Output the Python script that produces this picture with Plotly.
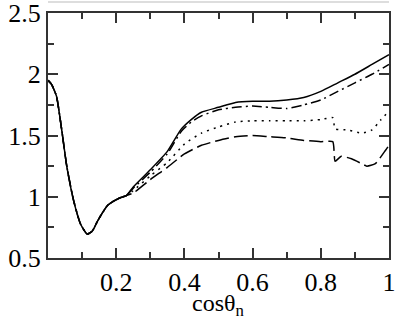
import plotly.graph_objects as go

# shared part of all four curves
x_common = [0, 0.01, 0.025, 0.04, 0.055, 0.075, 0.095, 0.115, 0.13, 0.145, 0.16, 0.175, 0.19, 0.21, 0.23]
y_common = [1.95, 1.92, 1.82, 1.55, 1.25, 0.97, 0.78, 0.695, 0.72, 0.8, 0.87, 0.93, 0.96, 0.99, 1.01]

x_solid = [0.25, 0.3, 0.35, 0.39, 0.42, 0.45, 0.5, 0.55, 0.6, 0.65, 0.7, 0.75, 0.8, 0.85, 0.9, 0.95, 1.0]
y_solid = [1.08, 1.22, 1.37, 1.55, 1.63, 1.69, 1.73, 1.77, 1.78, 1.78, 1.79, 1.81, 1.86, 1.93, 2.0, 2.08, 2.16]

x_dashdot = [0.25, 0.3, 0.35, 0.39, 0.42, 0.45, 0.5, 0.55, 0.6, 0.65, 0.7, 0.75, 0.8, 0.85, 0.9, 0.95, 1.0]
y_dashdot = [1.07, 1.2, 1.35, 1.53, 1.61, 1.66, 1.71, 1.73, 1.74, 1.73, 1.72, 1.75, 1.79, 1.86, 1.93, 2.0, 2.08]

x_dotted = [0.25, 0.3, 0.35, 0.4, 0.45, 0.5, 0.55, 0.6, 0.65, 0.7, 0.75, 0.8, 0.835, 0.842, 0.88, 0.92, 0.95, 0.975, 1.0]
y_dotted = [1.05, 1.17, 1.28, 1.43, 1.52, 1.57, 1.61, 1.62, 1.62, 1.62, 1.62, 1.63, 1.645, 1.555, 1.545, 1.52, 1.545, 1.625, 1.7]

x_dashed = [0.25, 0.3, 0.35, 0.4, 0.45, 0.5, 0.55, 0.6, 0.65, 0.7, 0.75, 0.8, 0.835, 0.842, 0.86, 0.89, 0.92, 0.935, 0.96, 0.99, 1.0]
y_dashed = [1.03, 1.14, 1.24, 1.35, 1.42, 1.46, 1.49, 1.5, 1.49, 1.48, 1.46, 1.45, 1.45, 1.29, 1.33, 1.31, 1.27, 1.25, 1.27, 1.38, 1.42]

x_ticks = [0.2, 0.4, 0.6, 0.8, 1]
x_labels = ["0.2", "0.4", "0.6", "0.8", "1"]
y_ticks = [0.5, 1, 1.5, 2, 2.5]
y_labels = ["0.5", "1", "1.5", "2", "2.5"]

fig = go.Figure()
for xs, ys, dash in [
    (x_solid, y_solid, "solid"),
    (x_dashdot, y_dashdot, "10px,4px,2px,4px"),
    (x_dotted, y_dotted, "2px,5px"),
    (x_dashed, y_dashed, "14px,5px"),
]:
    fig.add_trace(go.Scatter(
        x=x_common + xs, y=y_common + ys, mode="lines",
        line=dict(color="black", width=1.5, dash=dash, shape="spline", smoothing=0.5),
        showlegend=False,
    ))

axis_style = dict(
    showgrid=False, zeroline=False, showline=True, linecolor="#333", linewidth=2,
    mirror="ticks", ticks="inside", ticklen=10, tickwidth=1.5, tickcolor="#333",
    tickfont=dict(family="Liberation Serif", size=26, color="black"),
    automargin=False, ticklabeloverflow="allow",
)

fig.update_xaxes(
    range=[0, 1], tickvals=x_ticks, ticktext=x_labels,
    minor=dict(dtick=0.1, tick0=0, ticks="inside", ticklen=6, tickwidth=1.5, tickcolor="#333"),
    **axis_style,
)
fig.update_yaxes(
    range=[0.5, 2.5], tickvals=y_ticks, ticktext=y_labels,
    minor=dict(dtick=0.25, tick0=0.5, ticks="inside", ticklen=6, tickwidth=1.5, tickcolor="#333"),
    **axis_style,
)

# axis title placed by hand, as in the original it sits close under the tick labels
fig.add_annotation(
    text="cosθ<sub>n</sub>", xref="paper", yref="paper", x=0.5, y=-0.19,
    yanchor="middle", showarrow=False,
    font=dict(family="Liberation Serif", size=24, color="black"),
)
# faint grey rule above the frame, as in the scanned figure
fig.add_shape(type="line", xref="paper", yref="paper", x0=0, x1=1, y0=1.045, y1=1.045,
              line=dict(color="#dddddd", width=2))

fig.update_layout(
    width=411, height=327, margin=dict(l=48, r=22, t=13, b=69),
    plot_bgcolor="white", paper_bgcolor="white",
)

# drop the default page margin so the figure starts at the window corner
fig.write_html("out.html", config={"displayModeBar": False},
               post_script="document.body.style.margin='0';")
